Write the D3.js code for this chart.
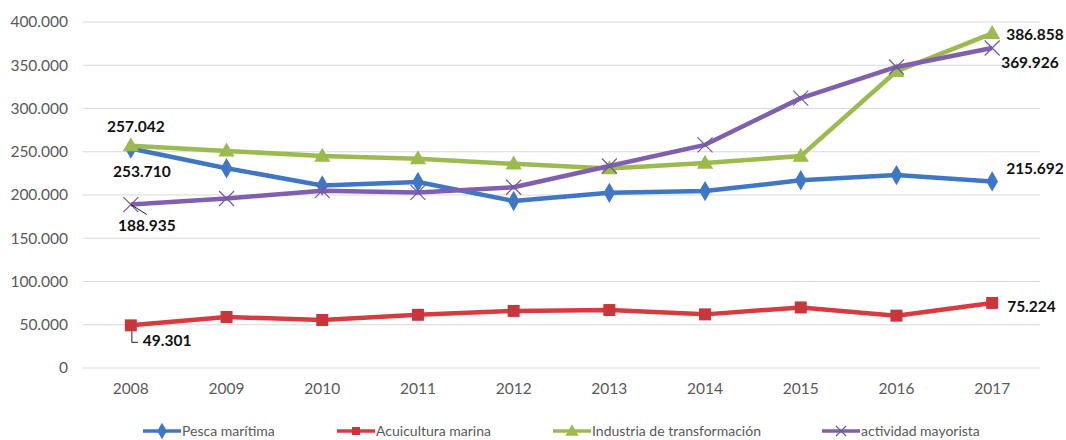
<!DOCTYPE html>
<html>
<head>
<meta charset="utf-8">
<script src="https://cdn.jsdelivr.net/npm/d3@7"></script>
<style>
  body { margin: 0; background: #fff; }
  svg { display: block; }
</style>
</head>
<body>
<div id="chart"></div>
<script>
// values
var years = ["2008", "2009", "2010", "2011", "2012", "2013", "2014", "2015", "2016", "2017"];
var pesca = [253710, 231000, 211000, 215000, 193000, 202500, 204500, 217000, 223000, 215692];
var acuicultura = [49301, 59000, 55500, 61500, 66000, 67000, 62000, 70000, 60500, 75224];
var industria = [257042, 251000, 245000, 242000, 236000, 230500, 237000, 245000, 343000, 386858];
var mayorista = [188935, 196000, 205000, 203000, 209000, 233500, 258000, 312000, 348000, 369926];
var yTicks = [0, 50000, 100000, 150000, 200000, 250000, 300000, 350000, 400000];

var W = 1066, H = 440;
var fmt = d3.formatLocale({decimal: ",", thousands: ".", grouping: [3], currency: ["", "€"]}).format(",d");

var svg = d3.select("#chart").append("svg")
    .attr("width", W).attr("height", H);

var x = d3.scaleBand().domain(years).range([83, 1040]);
var y = d3.scaleLinear().domain([0, 400000]).range([368, 22]);
var cx = function (i) { return x(years[i]) + x.bandwidth() / 2; };

// grid
svg.append("g").selectAll("line").data(yTicks).enter().append("line")
    .attr("x1", 83).attr("x2", 1040)
    .attr("y1", function (d) { return y(d); }).attr("y2", function (d) { return y(d); })
    .attr("stroke", "#d9d9d9").attr("stroke-width", 1);

// y axis labels
var yAxis = svg.append("g").attr("transform", "translate(83,0)")
    .call(d3.axisLeft(y).tickValues(yTicks).tickSize(0).tickPadding(15).tickFormat(fmt));
yAxis.select(".domain").remove();
yAxis.selectAll("text").attr("fill", "#595959")
    .style("font-family", "Lato, 'Open Sans', sans-serif").style("font-size", "15.5px");

// x axis labels
var xAxis = svg.append("g").attr("transform", "translate(0,368)")
    .call(d3.axisBottom(x).tickSize(0).tickPadding(15));
xAxis.select(".domain").remove();
xAxis.selectAll("text").attr("fill", "#595959")
    .style("font-family", "Lato, 'Open Sans', sans-serif").style("font-size", "15.5px");

var series = [
  {name: "Pesca marítima", values: pesca, color: "#3f77c6", marker: "diamond"},
  {name: "Acuicultura marina", values: acuicultura, color: "#d73b3e", marker: "square"},
  {name: "Industria de transformación", values: industria, color: "#9bbb4f", marker: "triangle"},
  {name: "actividad mayorista", values: mayorista, color: "#7f5fae", marker: "cross"}
];

var line = d3.line()
    .x(function (d, i) { return cx(i); })
    .y(function (d) { return y(d); });

function drawMarker(g, type, color, px, py, s) {
  if (type === "diamond") {
    g.append("path").attr("d", d3.symbol().type(d3.symbolDiamond).size(s * 10)())
      .attr("transform", "translate(" + px + "," + py + ")").attr("fill", color);
  } else if (type === "square") {
    g.append("rect").attr("x", px - s / 2).attr("y", py - s / 2)
      .attr("width", s).attr("height", s).attr("fill", "#c8363c");
  } else if (type === "triangle") {
    g.append("path").attr("d", d3.symbol().type(d3.symbolTriangle).size(s * 9.5)())
      .attr("transform", "translate(" + px + "," + (py + 1) + ")").attr("fill", color);
  } else {
    var r = s / 2;
    g.append("path")
      .attr("d", "M" + (px - r) + "," + (py - r) + "L" + (px + r) + "," + (py + r) +
                 "M" + (px - r) + "," + (py + r) + "L" + (px + r) + "," + (py - r))
      .attr("stroke", "#6f5a9a").attr("stroke-width", 1.2).attr("fill", "none");
  }
}

series.forEach(function (s) {
  var g = svg.append("g");
  g.append("path").datum(s.values).attr("d", line)
    .attr("fill", "none").attr("stroke", s.color).attr("stroke-width", 4.5)
    .attr("stroke-linejoin", "round");
  s.values.forEach(function (v, i) {
    drawMarker(g, s.marker, s.color, cx(i), y(v), s.marker === "cross" ? 15 : 12);
  });
});

// data labels
var labelFont = "Lato, 'Open Sans', sans-serif";
function label(vals, i, dx, dy, anchor) {
  svg.append("text")
    .attr("x", cx(i) + dx).attr("y", y(vals[i]) + dy)
    .attr("text-anchor", anchor || "start")
    .attr("font-family", labelFont).attr("font-weight", "bold").attr("font-size", "15.5px")
    .attr("fill", "#111").text(fmt(vals[i]));
}
label(industria, 0, 5, -14, "middle");
label(pesca, 0, 11, 28.5, "middle");
label(mayorista, 0, 16, 26, "middle");
label(acuicultura, 0, 12, 21);
label(industria, 9, 14, 7);
label(mayorista, 9, 9, 20);
label(pesca, 9, 14, -7.5);
label(acuicultura, 9, 15, 9);

// leader lines
svg.append("line")
  .attr("x1", cx(0)).attr("y1", y(mayorista[0]))
  .attr("x2", cx(0) + 16).attr("y2", y(mayorista[0]) + 10)
  .attr("stroke", "#222").attr("stroke-width", 1);
svg.append("path")
  .attr("d", "M" + (cx(0) + 1) + "," + (y(acuicultura[0]) + 6) + "V" + (y(acuicultura[0]) + 17) + "H" + (cx(0) + 7))
  .attr("stroke", "#222").attr("stroke-width", 1).attr("fill", "none");

// legend
var legendX = [143, 337, 553, 822];
var lg = svg.append("g");
series.forEach(function (s, k) {
  var lx = legendX[k], ly = 431;
  lg.append("line").attr("x1", lx).attr("x2", lx + 38).attr("y1", ly).attr("y2", ly)
    .attr("stroke", s.color).attr("stroke-width", 3.5);
  drawMarker(lg, s.marker, s.color, lx + 19, ly, s.marker === "cross" ? 10 : 8);
  lg.append("text").attr("x", lx + 39).attr("y", ly + 5)
    .attr("font-family", labelFont).attr("font-size", "14px").attr("fill", "#595959")
    .text(s.name);
});
</script>
</body>
</html>
